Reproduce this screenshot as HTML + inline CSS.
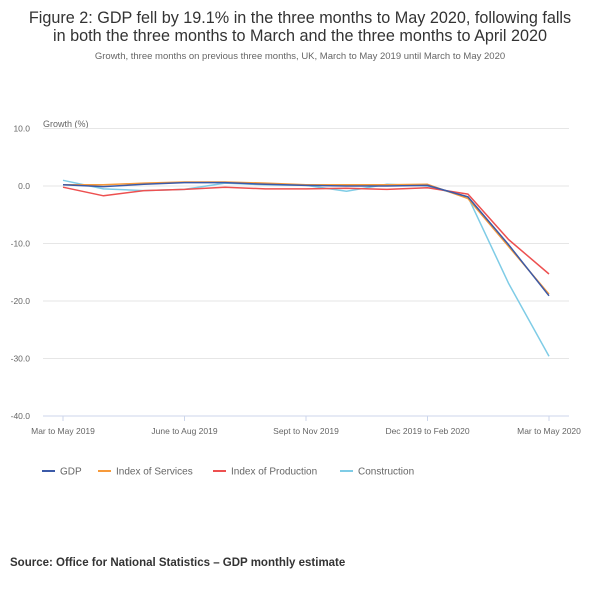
<!DOCTYPE html>
<html><head><meta charset="utf-8"><style>
body{margin:0;background:#fff;width:600px;height:585px;overflow:hidden;font-family:"Liberation Sans",sans-serif;}
</style></head><body>
<svg width="600" height="585" xmlns="http://www.w3.org/2000/svg">
<text x="300" y="23" text-anchor="middle" font-size="16.2" fill="#333">Figure 2: GDP fell by 19.1% in the three months to May 2020, following falls</text>
<text x="300" y="41" text-anchor="middle" font-size="16.2" fill="#333">in both the three months to March and the three months to April 2020</text>
<text x="300" y="59" text-anchor="middle" font-size="9.5" fill="#666">Growth, three months on previous three months, UK, March to May 2019 until March to May 2020</text>
<text x="43" y="127" font-size="9" fill="#666">Growth (%)</text>
<g id="grid"></g><g id="xax"></g><g id="series"></g>
<g id="legend"></g>
<text x="10" y="566" font-size="11.5" font-weight="bold" fill="#333">Source: Office for National Statistics – GDP monthly estimate</text>
</svg>
<script>
const categories=["Mar to May 2019","Apr to Jun 2019","May to Jul 2019","June to Aug 2019","Jul to Sep 2019","Aug to Oct 2019","Sept to Nov 2019","Oct to Dec 2019","Nov 2019 to Jan 2020","Dec 2019 to Feb 2020","Jan to Mar 2020","Feb to Apr 2020","Mar to May 2020"];
const shownLabels=[0,3,6,9,12];
const yTicks=[10,0,-10,-20,-30,-40];
const yTickLabels=["10.0","0.0","-10.0","-20.0","-30.0","-40.0"];
const gdp=[0.2,-0.1,0.3,0.6,0.6,0.3,0.1,0,0,0.1,-1.9,-10.2,-19.1];
const services=[0.2,0.2,0.5,0.7,0.7,0.5,0.2,0.2,0.2,0.3,-2.2,-10.5,-18.8];
const production=[-0.2,-1.7,-0.8,-0.6,-0.2,-0.5,-0.5,-0.4,-0.6,-0.3,-1.4,-9.3,-15.3];
const construction=[1.0,-0.5,-0.8,-0.6,0.5,0.2,0.1,-0.9,0.3,0,-1.9,-16.9,-29.6];
const seriesNames=["GDP","Index of Services","Index of Production","Construction"];
const seriesData=[gdp,services,production,construction];
const colors=["#3b5aa8","#f79a3a","#ed5050","#7fcce6"];
const NS="http://www.w3.org/2000/svg";
const x0=63,x1=549,gl=43,gr=569,yTop=128.5,yBot=416;
const xs=i=>x0+(x1-x0)*i/(categories.length-1);
const ys=v=>yTop+(10-v)/50*(yBot-yTop);
function mk(t,a,p){const e=document.createElementNS(NS,t);for(const k in a)e.setAttribute(k,a[k]);p.appendChild(e);return e;}
const grid=document.getElementById('grid');
yTicks.forEach((v,i)=>{
 const l=mk('line',{x1:gl,x2:gr,y1:ys(v),y2:ys(v),stroke:i==yTicks.length-1?'#ccd6eb':'#e6e6e6','stroke-width':1},grid);
 
 
 const t=mk('text',{x:30,y:ys(v)+3,'text-anchor':'end','font-size':8.5,fill:'#666'},grid);
 t.textContent=yTickLabels[i];
 
 
});
const xax=document.getElementById('xax');
shownLabels.forEach(i=>{
 const l=mk('line',{x1:xs(i),x2:xs(i),y1:yBot,y2:yBot+5,stroke:'#ccd6eb'},xax);
 
 
 const t=mk('text',{x:xs(i),y:yBot+18,'text-anchor':'middle','font-size':8.5,fill:'#666'},xax);
 t.textContent=categories[i];
 
 
});
const sg=document.getElementById('series');
[3,2,1,0].forEach(s=>{
 const d=seriesData[s].map((v,i)=>(i?'L':'M')+xs(i).toFixed(1)+' '+ys(v).toFixed(1)).join(' ');
 const p=mk('path',{d:d,fill:'none',stroke:colors[s],'stroke-width':1.5,'stroke-linejoin':'round'},sg);
 
 
});
const lg=document.getElementById('legend');
const lx=[42,98,213,340];
seriesNames.forEach((n,i)=>{
 const g=mk('g',{},lg);
 
 
 mk('line',{x1:lx[i],x2:lx[i]+13,y1:471,y2:471,stroke:colors[i],'stroke-width':2},g);
 const t=mk('text',{x:lx[i]+18,y:474.5,'font-size':10,fill:'#666'},g);
 t.textContent=n;
});
</script>
</body></html>
